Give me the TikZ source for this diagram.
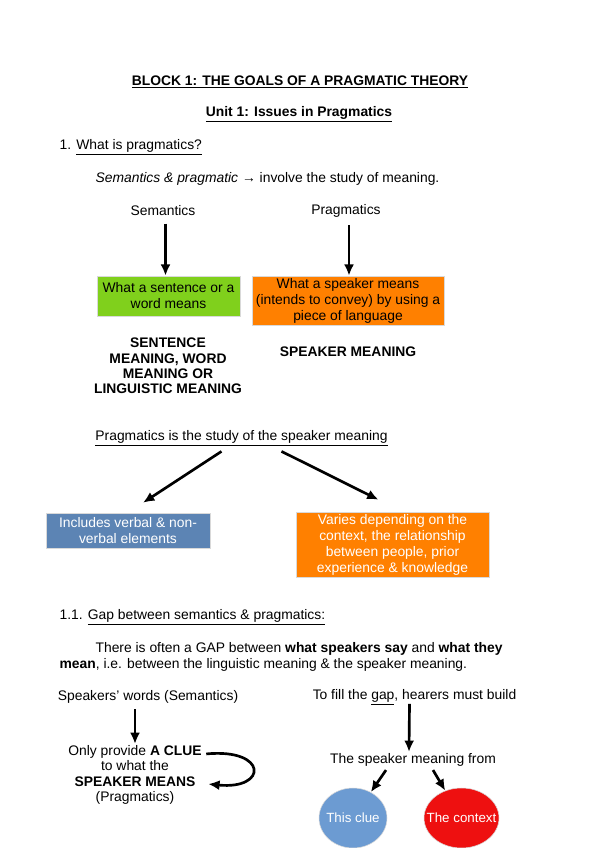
\documentclass[tikz,border=0pt]{standalone}
\usepackage{fontspec}
\setmainfont{Liberation Sans}
\usetikzlibrary{calc,shapes.geometric,arrows.meta}
\definecolor{vert}{RGB}{128,208,28}
\definecolor{orange}{RGB}{255,128,0}
\definecolor{bleu}{RGB}{92,132,180}
\definecolor{bleuclair}{RGB}{108,155,210}
\definecolor{rouge}{RGB}{238,16,16}
\begin{document}
\begin{tikzpicture}[x=0.75pt,y=-0.75pt]
% Styles
\tikzstyle{fleche}=[->,>={Latex[length=8.5pt,width=7.5pt]},line width=2pt]
\tikzstyle{texte}=[inner sep=1pt,font=\fontsize{10.4}{12}\selectfont]
\tikzstyle{gras}=[inner sep=1pt,align=center,font=\fontsize{10.4}{11.5}\selectfont\bfseries]
\tikzstyle{boite}=[texte,draw=black!15,align=center]
\tikzstyle{bulle}=[ellipse,draw=black!15,text=white,inner sep=0pt,font=\fontsize{10}{12}\selectfont]
% Dimensions
\def\px{0.75pt}
% Cadre
\useasboundingbox (0,0) rectangle (599,848);
% Titres
\node[gras] (Bloc) at (300,82) {\underline{BLOCK 1: THE GOALS OF A PRAGMATIC THEORY}};
\node[gras] (Unite) at (299,114) {\underline{Unit 1: Issues in Pragmatics}};
\node[texte,anchor=west] (Q1) at (58,147) {1. \underline{What is pragmatics?}};
\node[texte,anchor=west] (Def) at (94,179) {\textit{Semantics \& pragmatic} → involve the study of meaning.};
% Semantique / pragmatique
\node[texte] (Sem) at (163,211) {Semantics};
\node[texte] (Prag) at (346,211) {Pragmatics};
\node[boite,fill=vert,minimum width=143*\px,minimum height=40*\px] (SemBoite) at (168.5,296) {What a sentence or a\\word means};
\node[boite,fill=orange,minimum width=192*\px,minimum height=49*\px] (PragBoite) at (348,300.5) {What a speaker means\\(intends to convey) by using a\\piece of language};
\node[gras] (SemSens) at (168,366) {SENTENCE\\MEANING, WORD\\MEANING OR\\LINGUISTIC MEANING};
\node[gras] (PragSens) at (348,352) {SPEAKER MEANING};
\draw[fleche] ($(SemBoite.north |- Sem.south)+(-3,6)$) -- ($(SemBoite.north)+(-3,0)$);
\draw[fleche] ($(PragBoite.north |- Prag.south)+(1,6)$) -- ($(PragBoite.north)+(1,0)$);
% Etude du sens
\node[texte] (Etude) at (241.5,438) {\underline{Pragmatics is the study of the speaker meaning}};
\node[boite,fill=bleu,text=white,minimum width=164*\px,minimum height=35*\px] (Verbal) at (128,530.5) {Includes verbal \& non-\\verbal elements};
\node[boite,fill=orange,text=white,minimum width=193*\px,minimum height=65*\px] (Contexte) at (392.5,544.5) {Varies depending on the\\context, the relationship\\between people, prior\\experience \& knowledge};
\draw[fleche] ($(Etude.south)+(-20,4)$) -- ($(Verbal.north)+(15,-10)$);
\draw[fleche] ($(Etude.south)+(40,4)$) -- ($(Contexte.north)+(-14,-12)$);
% Ecart
\node[texte,anchor=west] (Q11) at (58,617) {1.1. \underline{Gap between semantics \& pragmatics:}};
\node[texte,anchor=west,align=left] (Ecart) at (58,657) {\hspace*{27pt}There is often a GAP between \textbf{what speakers say} and \textbf{what they}\\\textbf{mean}, i.e. between the linguistic meaning \& the speaker meaning.};
% Mots du locuteur
\node[texte] (Mots) at (148,697) {Speakers' words (Semantics)};
\node[texte,align=center,font=\fontsize{10.4}{11.5}\selectfont] (Indice) at (135,775) {Only provide \textbf{A CLUE}\\to what the\\\textbf{SPEAKER MEANS}\\(Pragmatics)};
\draw[fleche] ($(Indice.north |- Mots.south)+(0,4)$) -- (Indice.north);
\draw[fleche] ($(Indice.north east)+(3,10)$) .. controls (268,748) and (268,790) .. ($(Indice.east)+(5,9)$);
% Auditeurs
\node[texte] (Remplir) at (414.5,697) {To fill the \underline{gap}, hearers must build};
\node[texte] (Sens) at (413,760) {The speaker meaning from};
\node[bulle,fill=bleuclair,minimum width=68*\px,minimum height=60*\px] (Clue) at (353,818) {\makebox[0pt]{This clue}};
\node[bulle,fill=rouge,minimum width=75*\px,minimum height=60*\px] (Context) at (461.5,818) {\makebox[0pt]{The context}};
\draw[fleche] ($(Sens.north -| Remplir.south)+(-5,-48)$) -- ($(Sens.north)+(-4,0)$);
\draw[fleche] ($(Sens.south)+(-27,2)$) -- (Clue);
\draw[fleche] ($(Sens.south)+(20,2)$) -- (Context);
\end{tikzpicture}
\end{document}
